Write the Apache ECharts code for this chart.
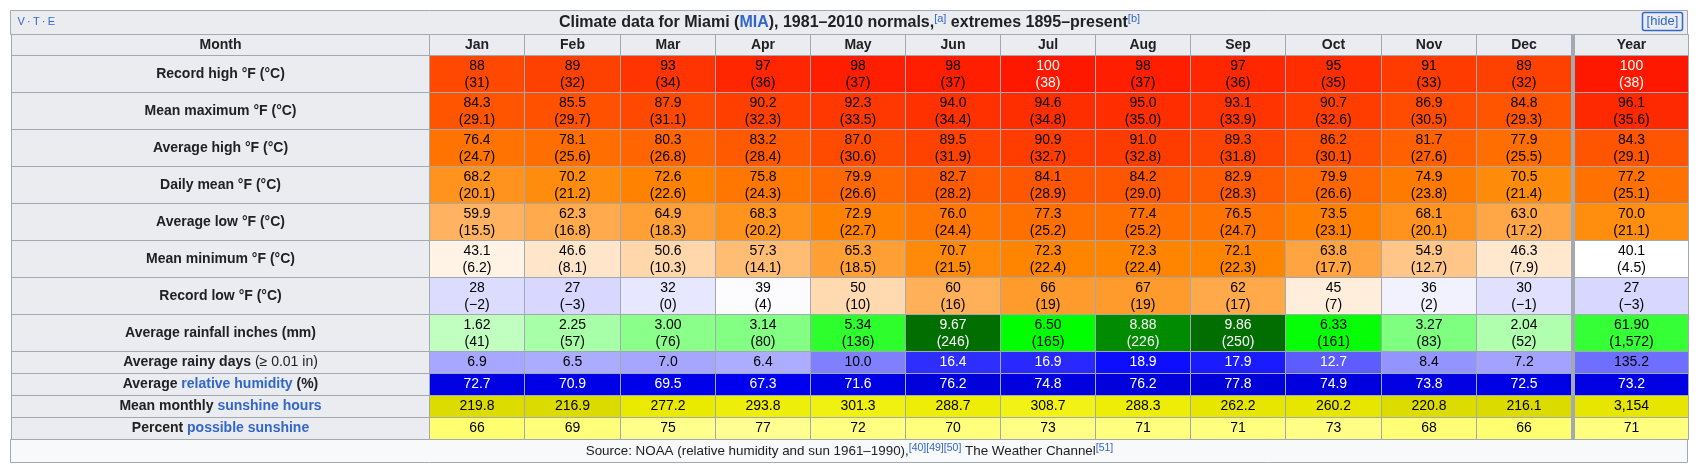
<!DOCTYPE html>
<html><head><meta charset="utf-8">
<script src="https://cdn.jsdelivr.net/npm/echarts@6/dist/echarts.min.js"></script>
<style>html,body{margin:0;padding:0;background:#fff}#c{width:1699px;height:471px}</style>
</head><body><div id="c"></div>
<script>
// ---------- DATA (13th value = Year) ----------
const months = ['Jan','Feb','Mar','Apr','May','Jun','Jul','Aug','Sep','Oct','Nov','Dec'];
const yearLabel = 'Year';
// {l|...} = wiki link, {n|...} = normal weight
const rowLabels = [
  'Record high °F (°C)',
  'Mean maximum °F (°C)',
  'Average high °F (°C)',
  'Daily mean °F (°C)',
  'Average low °F (°C)',
  'Mean minimum °F (°C)',
  'Record low °F (°C)',
  'Average rainfall inches (mm)',
  'Average rainy days {n|(≥ 0.01 in)}',
  'Average {l|relative humidity} (%)',
  'Mean monthly {l|sunshine hours}',
  'Percent {l|possible sunshine}'
];
const recordHighF = [88,89,93,97,98,98,100,98,97,95,91,89,100];
const recordHighC = [31,32,34,36,37,37,38,37,36,35,33,32,38];
const meanMaxF = [84.3,85.5,87.9,90.2,92.3,94.0,94.6,95.0,93.1,90.7,86.9,84.8,96.1];
const meanMaxC = [29.1,29.7,31.1,32.3,33.5,34.4,34.8,35.0,33.9,32.6,30.5,29.3,35.6];
const avgHighF = [76.4,78.1,80.3,83.2,87.0,89.5,90.9,91.0,89.3,86.2,81.7,77.9,84.3];
const avgHighC = [24.7,25.6,26.8,28.4,30.6,31.9,32.7,32.8,31.8,30.1,27.6,25.5,29.1];
const dailyMeanF = [68.2,70.2,72.6,75.8,79.9,82.7,84.1,84.2,82.9,79.9,74.9,70.5,77.2];
const dailyMeanC = [20.1,21.2,22.6,24.3,26.6,28.2,28.9,29.0,28.3,26.6,23.8,21.4,25.1];
const avgLowF = [59.9,62.3,64.9,68.3,72.9,76.0,77.3,77.4,76.5,73.5,68.1,63.0,70.0];
const avgLowC = [15.5,16.8,18.3,20.2,22.7,24.4,25.2,25.2,24.7,23.1,20.1,17.2,21.1];
const meanMinF = [43.1,46.6,50.6,57.3,65.3,70.7,72.3,72.3,72.1,63.8,54.9,46.3,40.1];
const meanMinC = [6.2,8.1,10.3,14.1,18.5,21.5,22.4,22.4,22.3,17.7,12.7,7.9,4.5];
const recordLowF = [28,27,32,39,50,60,66,67,62,45,36,30,27];
const recordLowC = [-2,-3,0,4,10,16,19,19,17,7,2,-1,-3];
const rainInches = [1.62,2.25,3.00,3.14,5.34,9.67,6.50,8.88,9.86,6.33,3.27,2.04,61.90];
const rainMm = [41,57,76,80,136,246,165,226,250,161,83,52,1572];
const rainyDays = [6.9,6.5,7.0,6.4,10.0,16.4,16.9,18.9,17.9,12.7,8.4,7.2,135.2];
const humidity = [72.7,70.9,69.5,67.3,71.6,76.2,74.8,76.2,77.8,74.9,73.8,72.5,73.2];
const sunHours = [219.8,216.9,277.2,293.8,301.3,288.7,308.7,288.3,262.2,260.2,220.8,216.1,3154];
const sunPercent = [66,69,75,77,72,70,73,71,71,73,68,66,71];

// ---------- STYLE HELPERS ----------
const FONT = "'Liberation Sans', Arial, sans-serif";
const BORDER = '#a2a9b1';
const HEAD_BG = '#eaecf0';
const LINK = '#3366cc';
const cl = v => Math.max(0, Math.min(255, Math.round(v)));
const rgb = a => 'rgb(' + a.map(cl).join(',') + ')';
const minus = s => String(s).replace('-', '\u2212');
const thous = v => v.toLocaleString('en-US');

function tempColor(c) {
  if (c >= 4.5) return [255, 255 * (41.5 - c) / 37, 255 * (22.1 - c) / 17.6];
  const v = 255 * (c + 42.75) / 47.25;
  return [v, v, 255];
}
function rainColor(mm) {
  if (mm <= 165) { const v = 255 * (165 - mm) / 165; return [v, 255, v]; }
  return [0, Math.max(110, 255 - (mm - 165) * 1.9), 0];
}
function rainyColor(d) { const v = 255 * (1 - d / 20); return [v, v, 255]; }
function humColor(h) { return [0, 0, 255 - (h - 60) * 2.2]; }
function sunColor(h) { const v = 219 + (h - 217) * 0.25; return [v, v, (h - 280) * 0.8]; }
function pctColor(p) { return [255, 255, 112 + (p - 66) * 3]; }

const isYear = i => i === 12;
const two = (a, b) => [a, '(' + b + ')'];
function tempRow(F, C, dec) {
  return i => ({
    lines: two(dec ? F[i].toFixed(1) : String(F[i]), minus(dec ? C[i].toFixed(1) : C[i])),
    color: tempColor(C[i]), white: C[i] >= 37.8
  });
}
const rowDefs = [
  tempRow(recordHighF, recordHighC, false),
  tempRow(meanMaxF, meanMaxC, true),
  tempRow(avgHighF, avgHighC, true),
  tempRow(dailyMeanF, dailyMeanC, true),
  tempRow(avgLowF, avgLowC, true),
  tempRow(meanMinF, meanMinC, true),
  tempRow(recordLowF, recordLowC, false),
  i => { const m = isYear(i) ? rainMm[i] / 12 : rainMm[i];
    return { lines: two(rainInches[i].toFixed(2), thous(rainMm[i])), color: rainColor(m), white: m > 190 }; },
  i => { const d = isYear(i) ? rainyDays[i] / 12 : rainyDays[i];
    return { lines: [rainyDays[i].toFixed(1)], color: rainyColor(d), white: d >= 12 }; },
  i => ({ lines: [humidity[i].toFixed(1)], color: humColor(humidity[i]), white: true }),
  i => { const h = isYear(i) ? sunHours[i] / 12 : sunHours[i];
    return { lines: [isYear(i) ? thous(sunHours[i]) : sunHours[i].toFixed(1)], color: sunColor(h), white: false }; },
  i => ({ lines: [String(sunPercent[i])], color: pctColor(sunPercent[i]), white: false })
];
const rowSizes = [37,37,37,37,37,37,37,37,22,22,22,22];
const SEP = '\u00a0';
const columns = [...months, yearLabel];

// wrap every segment of a row label in a rich token whose line height equals the row height
function richLabel(s, h) {
  const parts = []; const re = /\{(\w+)\|([^}]*)\}/g; let last = 0, m;
  while ((m = re.exec(s))) {
    if (m.index > last) parts.push(['b', s.slice(last, m.index)]);
    parts.push([m[1], m[2]]); last = re.lastIndex;
  }
  if (last < s.length) parts.push(['b', s.slice(last)]);
  return parts.map(p => '{' + p[0] + h + '|' + p[1] + '}').join('');
}
const yValues = rowLabels.map((s, i) => richLabel(s, rowSizes[i]));

const bodyData = [];
yValues.forEach((rl, r) => {
  columns.forEach((col, i) => {
    const d = rowDefs[r](i);
    bodyData.push({
      coord: [col, rl],
      value: d.lines.map(t => '{v|' + t + '}').join('\n'),
      itemStyle: { color: rgb(d.color) },
      label: { color: d.white ? '#ffffff' : '#000000' }
    });
  });
  bodyData.push({ coord: [SEP, rl], value: '', itemStyle: { color: BORDER, borderColor: BORDER } });
});

const cellStyle = { color: HEAD_BG, borderColor: BORDER, borderWidth: 1 };
const headLabel = { fontFamily: FONT, fontSize: 14, fontWeight: 'bold', color: '#202122',
  align: 'center', verticalAlign: 'middle', overflow: 'none', lineOverflow: 'none', padding: 0 };
const tok = (weight, color, lh) => ({ fontFamily: FONT, fontSize: 14, fontWeight: weight, color: color, lineHeight: lh });
const rich = {};
[...new Set(rowSizes)].forEach(h => {
  rich['b' + h] = tok('bold', '#202122', h);
  rich['l' + h] = tok('bold', LINK, h);
  rich['n' + h] = tok('normal', '#202122', h);
});

const chart = echarts.init(document.getElementById('c'));
chart.setOption({
  backgroundColor: '#ffffff',
  animation: false,
  matrix: {
    left: 11, right: 11, top: 34.5, bottom: 31.5,
    backgroundStyle: { color: '#ffffff', borderColor: BORDER, borderWidth: 1 },
    x: {
      data: [...months, { value: SEP, size: 3, itemStyle: { color: BORDER } }, { value: yearLabel, size: 114 }],
      levelSize: 21,
      itemStyle: cellStyle,
      label: headLabel,
      dividerLineStyle: { color: BORDER, width: 1 }
    },
    y: {
      data: yValues.map((v, i) => ({ value: v, size: rowSizes[i] })),
      levelSize: 418.5,
      itemStyle: cellStyle,
      label: Object.assign({}, headLabel, { rich: rich }),
      dividerLineStyle: { color: BORDER, width: 1 }
    },
    corner: {
      itemStyle: cellStyle,
      label: headLabel,
      data: [{ coord: [-1, -1], value: 'Month' }]
    },
    body: {
      itemStyle: { color: '#ffffff', borderColor: BORDER, borderWidth: 1 },
      label: { fontFamily: FONT, fontSize: 14, color: '#000000',
        align: 'center', verticalAlign: 'middle', overflow: 'none', lineOverflow: 'none', padding: [2.5, 0, 0, 0],
        rich: { v: { fontFamily: FONT, fontSize: 14, lineHeight: 16.5 } } },
      data: bodyData
    }
  },
  graphic: [
    { type: 'rect', z: 1, shape: { x: 10.5, y: 10.5, width: 1677, height: 24 },
      style: { fill: HEAD_BG, stroke: BORDER, lineWidth: 1 } },
    { type: 'rect', z: 1, shape: { x: 10.5, y: 439.5, width: 1677, height: 23 },
      style: { fill: '#f8f9fa', stroke: BORDER, lineWidth: 1 } },
    { type: 'text', z: 2, x: 849.5, y: 23,
      style: {
        text: '{t|Climate data for Miami (}{l|MIA}{t|), 1981\u20132010 normals,}{s|[a]}{t| extremes 1895\u2013present}{s|[b]}',
        align: 'center', verticalAlign: 'middle',
        rich: {
          t: { fontFamily: FONT, fontSize: 16, fontWeight: 'bold', fill: '#202122', lineHeight: 19 },
          l: { fontFamily: FONT, fontSize: 16, fontWeight: 'bold', fill: LINK, lineHeight: 19 },
          s: { fontFamily: FONT, fontSize: 11, fill: LINK, verticalAlign: 'top', lineHeight: 11 }
        }
      } },
    { type: 'text', z: 2, x: 17.5, y: 22,
      style: { text: 'V\u2009\u00b7\u2009T\u2009\u00b7\u2009E', fill: LINK, fontFamily: FONT, fontSize: 11, verticalAlign: 'middle' } },
    { type: 'rect', z: 2, shape: { x: 1642.5, y: 12.5, width: 40, height: 18, r: 2 },
      style: { fill: 'none', stroke: LINK, lineWidth: 1.5 } },
    { type: 'text', z: 2, x: 1662.5, y: 21.5,
      style: { text: '[hide]', fill: LINK, fontFamily: FONT, fontSize: 13, align: 'center', verticalAlign: 'middle' } },
    { type: 'text', z: 2, x: 849.5, y: 451,
      style: {
        text: '{n|Source: NOAA (relative humidity and sun 1961\u20131990),}{s|[40][49][50]}{n| The Weather Channel}{s|[51]}',
        align: 'center', verticalAlign: 'middle',
        rich: {
          n: { fontFamily: FONT, fontSize: 13.4, fill: '#202122', lineHeight: 16 },
          s: { fontFamily: FONT, fontSize: 10.5, fill: LINK, verticalAlign: 'top', lineHeight: 10 }
        }
      } }
  ]
});
</script>
</body></html>
